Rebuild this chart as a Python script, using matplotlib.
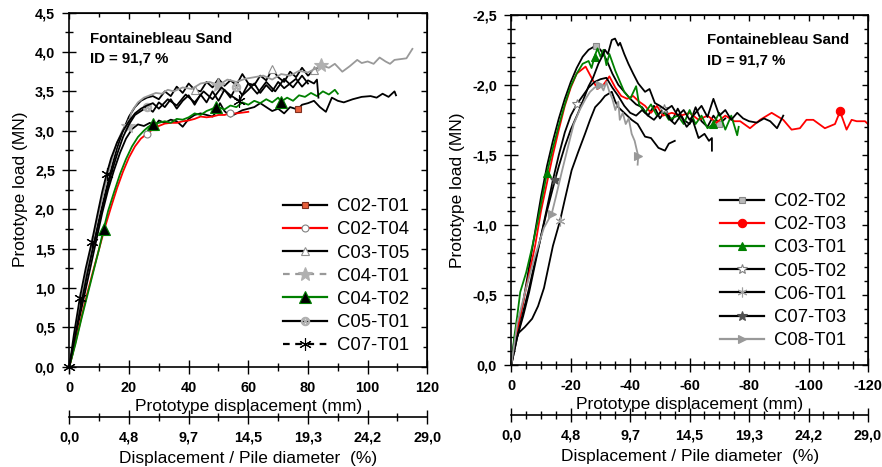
import matplotlib
matplotlib.use("Agg")
import matplotlib.pyplot as plt
from matplotlib.lines import Line2D
from matplotlib.ticker import MultipleLocator, FuncFormatter, FixedLocator

plt.rcParams['font.family'] = ['Liberation Sans', 'DejaVu Sans']

# ---------------- LEFT PANEL DATA (compression) ----------------
c02t01_x = [0, 1, 3, 5, 7, 9, 11, 13, 15, 17, 19, 21, 23, 25, 27, 28.5, 30, 32, 34, 36, 38, 40, 42, 44, 46, 48, 49.5, 50.5,
            52, 54, 56, 58, 60, 62, 64, 66, 68, 70, 72, 74, 76.5, 78, 80, 82, 84, 86, 88, 90, 92, 95, 98, 101, 103, 105,
            107, 109, 109.5]
c02t01_y = [0, 0.15, 0.55, 0.9, 1.25, 1.6, 1.95, 2.25, 2.5, 2.72, 2.9, 3.02, 3.08, 3.06, 3.1, 3.05, 3.13, 3.1, 3.14, 3.12,
            3.05, 3.15, 3.2, 3.22, 3.2, 3.18, 3.25, 3.35, 3.25, 3.18, 3.22, 3.26, 3.28, 3.3, 3.35, 3.3, 3.25, 3.28, 3.22,
            3.3, 3.27, 3.33, 3.35, 3.38, 3.3, 3.24, 3.42, 3.38, 3.36, 3.4, 3.43, 3.44, 3.42, 3.47, 3.43, 3.5, 3.45]
c02t04_x = [0, 2, 4, 6, 8, 10, 12, 14, 16, 18, 20, 22, 24, 26, 28, 30, 32, 34, 36, 38, 40, 42, 44, 46, 48, 50, 52, 54,
            56, 58, 60]
c02t04_y = [0, 0.3, 0.62, 0.93, 1.22, 1.5, 1.78, 2.03, 2.27, 2.48, 2.66, 2.8, 2.9, 2.96, 3.02, 3.06, 3.09, 3.1, 3.1,
            3.12, 3.13, 3.15, 3.18, 3.17, 3.18, 3.2, 3.2, 3.22, 3.22, 3.23, 3.24]
c03t05_x = [0, 2, 4, 6, 8, 10, 12, 14, 16, 18, 20, 22, 24, 26, 28, 30, 32, 34, 36, 38, 40, 42, 44, 46, 48, 50, 52, 54,
            56, 58, 60, 62, 64, 66, 68, 70, 72, 74, 76, 78, 80, 82, 84]
c03t05_y = [0, 0.4, 0.82, 1.2, 1.55, 1.88, 2.2, 2.5, 2.78, 3.0, 3.18, 3.3, 3.38, 3.42, 3.44,
            3.4, 3.5, 3.44, 3.56, 3.48, 3.6, 3.52, 3.5, 3.62, 3.55, 3.66, 3.57, 3.64, 3.58, 3.72, 3.6, 3.58, 3.7, 3.64,
            3.78, 3.68, 3.62, 3.75, 3.68, 3.8, 3.7, 3.77, 3.82]
c04t01_x = [0, 2, 4, 6, 8, 10, 12, 14, 16, 18, 19.5, 21, 23, 25, 27, 29, 31, 33, 35, 38, 41, 44, 47, 50, 53, 56, 59,
            62, 65, 68, 71, 74, 77, 80, 82, 84.5, 87, 89, 91.5, 94, 96.5, 98, 100, 102, 104, 106, 107.5, 109, 111, 113,
            115]
c04t01_y = [0, 0.42, 0.85, 1.25, 1.62, 1.98, 2.3, 2.6, 2.85, 3.02, 3.06, 3.25, 3.36, 3.42, 3.45, 3.48, 3.47, 3.52, 3.5,
            3.55, 3.53, 3.6, 3.62, 3.58, 3.65, 3.62, 3.66, 3.68, 3.7, 3.65, 3.72, 3.7, 3.76, 3.74, 3.78, 3.83, 3.8, 3.85,
            3.75, 3.82, 3.9, 3.86, 3.88, 3.85, 3.93, 3.88, 3.85, 3.9, 3.91, 3.92, 4.04]
c04t02_x = [0, 2, 4, 6, 8, 10, 11.5, 13, 15, 17, 19, 21, 23, 25, 26.5, 28, 30, 32, 34, 36, 38, 40, 42, 44, 46, 48, 49,
            50, 52, 54, 56, 58, 60, 62, 64, 66, 68, 70, 71, 73, 75, 77, 79, 81, 83, 85, 87, 89, 90]
c04t02_y = [0, 0.28, 0.6, 0.9, 1.2, 1.5, 1.75, 1.98, 2.22, 2.45, 2.64, 2.8, 2.92, 3.0, 3.05, 3.08, 3.1, 3.12, 3.1, 3.15,
            3.14, 3.17, 3.22, 3.2, 3.25, 3.28, 3.3, 3.3, 3.27, 3.32, 3.3, 3.36, 3.33, 3.38, 3.35, 3.4, 3.36, 3.42, 3.37,
            3.42, 3.38, 3.45, 3.43, 3.48, 3.44, 3.5, 3.46, 3.52, 3.47]
c05t01_x = [0, 2, 4, 6, 8, 10, 12, 14, 16, 18, 20, 22, 24, 26, 28, 30, 32, 34, 36, 38, 40, 42, 44, 46, 48, 50, 52, 54,
            56, 58, 60, 62, 64, 66, 68, 70, 72, 74, 76, 78, 80, 82, 83, 83.5]
c05t01_y = [0, 0.4, 0.8, 1.18, 1.52, 1.85, 2.15, 2.45, 2.7, 2.92, 3.08, 3.2, 3.25, 3.3,
            3.24, 3.36, 3.3, 3.4, 3.28, 3.38, 3.45, 3.33, 3.46, 3.36, 3.5, 3.38, 3.52, 3.42, 3.56, 3.45, 3.52, 3.6, 3.48,
            3.58, 3.5, 3.62, 3.54, 3.6, 3.66, 3.56, 3.64, 3.6, 3.65, 3.42]
c07t01_x = [0, 1.5, 3.5, 5.5, 7.5, 9.5, 11, 12.5, 14, 16, 18, 20, 22, 24, 26, 28, 30, 33, 36, 39, 42, 45, 48, 51, 54,
            57, 60, 63, 66, 69, 72, 75, 78, 80]
c07t01_y = [0, 0.4, 0.87, 1.25, 1.58, 1.95, 2.22, 2.45, 2.65, 2.85, 3.0, 3.12, 3.22, 3.28, 3.32,
            3.35, 3.28, 3.4, 3.32, 3.46, 3.36, 3.5, 3.4, 3.55, 3.45, 3.38, 3.6, 3.47, 3.62, 3.5, 3.66, 3.55, 3.7, 3.6]

# ---------------- RIGHT PANEL DATA (tension) ----------------
c02t02_x = [0, -1, -2.5, -4, -6, -8, -10, -12, -14, -16, -18, -20, -22, -24, -26, -28.5, -30, -32, -34, -36, -38, -40,
            -42, -44, -46, -48, -50, -52, -54, -56, -58, -60, -62, -64, -66, -68, -70, -72]
c02t02_y = [0, -0.18, -0.3, -0.45, -0.7, -0.95, -1.2, -1.42, -1.6, -1.76, -1.9, -2.02, -2.12, -2.2, -2.25, -2.28, -2.25,
            -2.18, -2.08, -2.0, -1.95, -1.9, -1.86, -1.84, -1.78, -1.85, -1.76, -1.82, -1.74, -1.83, -1.75, -1.72, -1.84,
            -1.74, -1.7, -1.78, -1.72, -1.76]
c02t03_x = [0, -2, -4, -6, -8, -10, -12, -14, -16, -18, -20, -22, -25, -27, -29, -31, -33, -35, -37, -39, -41, -43, -45,
            -47, -49, -51, -54, -57, -60, -63, -66, -69, -72, -75, -77, -80.3, -83.7, -87.6, -91.5, -94.3, -97.1, -99.3,
            -101.6, -105.5, -108.9, -110.6, -112.8, -114.5, -116.2, -119, -120]
c02t03_y = [0, -0.25, -0.45, -0.65, -0.85, -1.1, -1.3, -1.5, -1.68, -1.85, -1.98, -2.08, -2.13, -2.05, -1.97, -2.0,
            -2.06, -1.98, -1.92, -1.9, -1.92, -1.88, -1.85, -1.8, -1.85, -1.78, -1.8, -1.78, -1.8, -1.75, -1.78, -1.73,
            -1.78, -1.74, -1.74, -1.69, -1.75, -1.8, -1.75, -1.68, -1.69, -1.75, -1.75, -1.69, -1.72, -1.81, -1.68,
            -1.75, -1.74, -1.74, -1.72]
c03t01_x = [0, -1, -2, -3, -5, -7, -9, -12, -14, -16, -18, -20, -22, -24, -26, -27, -28, -29, -30, -31, -32, -33, -35,
            -37, -38, -40, -42, -43, -45, -47, -49, -51, -53, -56, -58, -60, -62, -64, -66, -68, -70, -72, -74, -76,
            -76.5]
c03t01_y = [0, -0.2, -0.35, -0.52, -0.66, -0.84, -1.04, -1.37, -1.55, -1.71, -1.86, -1.99, -2.08, -2.15, -2.17, -2.12,
            -2.2, -2.26, -2.2, -2.25, -2.14, -2.22, -2.1, -2.0, -1.95, -1.9, -1.99, -1.86, -1.8, -1.86, -1.78, -1.82,
            -1.75, -1.78, -1.72, -1.82, -1.72, -1.78, -1.69, -1.72, -1.8, -1.68, -1.78, -1.64, -1.7]
c05t02_x = [0, -2, -4, -6, -8, -10, -12, -14, -16, -18, -20, -22, -24, -26, -28, -30, -32, -34, -36, -38, -40, -42, -44,
            -46, -48, -50, -51.5, -53, -55, -57, -59, -61, -63, -65, -66.5, -67.5, -67.5]
c05t02_y = [0, -0.2, -0.35, -0.52, -0.72, -0.92, -1.12, -1.32, -1.5, -1.66, -1.78, -1.86, -1.92, -1.98, -2.02, -2.04,
            -2.05, -1.98, -1.92, -1.85, -1.8, -1.78, -1.82, -1.78, -1.75, -1.8, -1.83, -1.76, -1.72, -1.78, -1.7, -1.75,
            -1.62, -1.65, -1.6, -1.62, -1.53]
c06t01_x = [0, -1, -2.5, -4.5, -7, -9, -11, -12.5, -14, -16.4, -18, -20.3, -22.5, -24.8, -26.5, -28.2, -30, -31.5,
            -33.8, -35, -36, -38, -40.5, -42.5, -45, -47, -49.5, -51.7, -53, -55]
c06t01_y = [0, -0.15, -0.23, -0.27, -0.33, -0.42, -0.55, -0.7, -0.85, -1.03, -1.18, -1.39, -1.52, -1.65, -1.75, -1.84,
            -1.88, -1.92, -1.95, -1.88, -1.84, -1.8, -1.75, -1.72, -1.63, -1.62, -1.55, -1.53, -1.58, -1.6]
c07t03_x = [0, -2, -4, -6, -8, -10, -12, -14.7, -16, -18, -20, -22.5, -24, -26, -27.5, -29.3, -30.5, -31.5, -32.5,
            -33.8, -34.9, -36, -36.6, -38, -39.4, -41, -42.7, -45, -46.5, -48.3, -50, -52, -54, -56, -58, -60, -62, -64,
            -66, -68, -70, -72, -74, -76, -78, -80, -82.6, -85, -87.1, -89.4, -91.5]
c07t03_y = [0, -0.2, -0.38, -0.55, -0.74, -0.92, -1.1, -1.32, -1.42, -1.56, -1.68, -1.8, -1.88, -1.99, -2.05, -2.15,
            -2.2, -2.25, -2.22, -2.32, -2.33, -2.28, -2.3, -2.22, -2.15, -2.08, -2.01, -1.95, -1.97, -1.87, -1.85, -1.82,
            -1.85, -1.78, -1.82, -1.75, -1.8, -1.85, -1.77, -1.9, -1.78, -1.82, -1.75, -1.8, -1.76, -1.74, -1.73, -1.76,
            -1.74, -1.69, -1.78]
c08t01_x = [0, -2, -5, -8, -11, -13.6, -15, -17, -19, -21, -23, -25, -26.5, -28, -30, -31, -32, -33, -34, -35, -36,
            -36.5, -37.5, -38.5, -39.5, -40.5, -41.5, -42.7, -42.5]
c08t01_y = [0, -0.3, -0.55, -0.78, -0.98, -1.08, -1.2, -1.38, -1.55, -1.72, -1.82, -1.9, -1.95, -1.98, -2.0, -1.96,
            -2.02, -1.95, -1.9, -1.82, -1.88, -1.75, -1.8, -1.72, -1.76, -1.65, -1.6, -1.49, -1.43]

left_labels = ['C02-T01', 'C02-T04', 'C03-T05', 'C04-T01', 'C04-T02', 'C05-T01', 'C07-T01']
right_labels = ['C02-T02', 'C02-T03', 'C03-T01', 'C05-T02', 'C06-T01', 'C07-T03', 'C08-T01']
x_ticks_mm = [0, 20, 40, 60, 80, 100, 120]
ratio_labels = ['0,0', '4,8', '9,7', '14,5', '19,3', '24,2', '29,0']
annot = 'Fontainebleau Sand\nID = 91,7 %'

GREEN = '#008000'
GREY = '#999999'

# styles: (x, y, line colour, marker, marker face, marker edge, marker size, markevery, legend linestyle)
left_series = [
    (c02t01_x, c02t01_y, 'black', 's', '#e8603c', '#803020', 4.5, [15, 40], '-'),
    (c02t04_x, c02t04_y, 'red', 'o', 'white', '#808080', 5, [13, 27], '-'),
    (c03t05_x, c03t05_y, 'black', '^', 'white', '#909090', 5.5, [21, 34, 41], '-'),
    (c04t01_x, c04t01_y, GREY, '*', '#b0b0b0', '#b0b0b0', 10, [10, 23, 35], (0, (3, 2.5))),
    (c04t02_x, c04t02_y, GREEN, '^', 'black', GREEN, 9, [6, 15, 26, 38], '-'),
    (c05t01_x, c05t01_y, 'black', r'$\otimes$', '#b0b0b0', '#b0b0b0', 6, [13, 28], '-'),
    (c07t01_x, c07t01_y, 'black', (6, 2, 0), 'black', 'black', 9, [0, 2, 4, 7, 25], (0, (3, 2.5))),
]
right_series = [
    (c02t02_x, c02t02_y, 'black', 's', '#b8b8b8', '#888888', 5, [15, 36], '-'),
    (c02t03_x, c02t03_y, 'red', 'o', 'red', 'red', 6, [45], '-'),
    (c03t01_x, c03t01_y, GREEN, '^', GREEN, GREEN, 6, [7, 16, 39], '-'),
    (c05t02_x, c05t02_y, 'black', '*', 'white', '#808080', 7, [11, 26], '-'),
    (c06t01_x, c06t01_y, 'black', (6, 2, 0), '#a0a0a0', '#a0a0a0', 7, [9], '-'),
    (c07t03_x, c07t03_y, 'black', '*', '#505050', '#505050', 7, [7], '-'),
    (c08t01_x, c08t01_y, GREY, '>', GREY, GREY, 6, [5, 14, 27], '-'),
]

TICK_SIZE = 10.4

fig = plt.figure(figsize=(8.82, 4.67), dpi=100)
axL = fig.add_axes([0.0786, 0.2148, 0.4059, 0.758])
axR = fig.add_axes([0.5797, 0.2184, 0.4044, 0.750])

comma = FuncFormatter(lambda v, p: ('%.1f' % v).replace('.', ','))


def style_axes(ax, xlim, ylim, xminor, yminor, ymaj, sec_loc, sec_minor, sec_ticks):
    ax.set_xlim(*xlim)
    ax.set_ylim(*ylim)
    ax.xaxis.set_major_locator(FixedLocator(sec_ticks))
    ax.xaxis.set_minor_locator(MultipleLocator(xminor))
    ax.yaxis.set_major_locator(MultipleLocator(ymaj))
    ax.yaxis.set_minor_locator(MultipleLocator(yminor))
    ax.yaxis.set_major_formatter(comma)
    ax.xaxis.set_major_formatter(FuncFormatter(lambda v, p: '%d' % round(v)))
    ax.tick_params(which='major', direction='inout', length=9.5, width=1, top=False, right=False,
                   labelsize=TICK_SIZE, pad=5.2)
    ax.tick_params(which='minor', direction='inout', length=6, width=1, top=False, right=False)
    ax.tick_params(axis='y', which='major', pad=5.5)
    for lab in ax.get_xticklabels() + ax.get_yticklabels():
        lab.set_fontweight('bold')
    for sp in ax.spines.values():
        sp.set_linewidth(1.2)
    ax.set_xlabel('Prototype displacement (mm)', fontsize=12.5, labelpad=3.2)
    ax.set_ylabel('Prototype load (MN)', fontsize=12.5, labelpad=5)

    # inward ticks on top and right edges
    top = ax.secondary_xaxis('top')
    top.xaxis.set_major_locator(FixedLocator(sec_ticks))
    top.xaxis.set_minor_locator(MultipleLocator(xminor))
    top.tick_params(which='major', direction='in', length=4, width=1, labeltop=False)
    top.tick_params(which='minor', direction='in', length=3, width=1)
    rgt = ax.secondary_yaxis('right')
    rgt.yaxis.set_major_locator(MultipleLocator(ymaj))
    rgt.yaxis.set_minor_locator(MultipleLocator(yminor))
    rgt.tick_params(which='major', direction='in', length=4, width=1, labelright=False)
    rgt.tick_params(which='minor', direction='in', length=3, width=1)

    sec = ax.secondary_xaxis(sec_loc)
    sec.set_xticks(sec_ticks)
    sec.set_xticklabels(ratio_labels)
    sec.xaxis.set_minor_locator(MultipleLocator(sec_minor))
    sec.tick_params(which='major', direction='inout', length=9.5, width=1, labelsize=TICK_SIZE, pad=5.2)
    sec.tick_params(which='minor', direction='inout', length=6, width=1)
    for lab in sec.get_xticklabels():
        lab.set_fontweight('bold')
    for sp in sec.spines.values():
        sp.set_linewidth(1.2)
    sec.set_xlabel('Displacement / Pile diameter  (%)', fontsize=12.5, labelpad=4.5)


def draw(ax, series, labels):
    handles = []
    for (x, y, lc, mk, mf, me, ms, mev, lls), lab in zip(series, labels):
        ax.plot(x, y, color=lc, lw=1.3, marker=mk, markerfacecolor=mf, markeredgecolor=me,
                markersize=ms, markevery=mev, markeredgewidth=0.8, clip_on=False)
        handles.append(Line2D([], [], color=lc, lw=1.6, ls=lls, marker=mk, markerfacecolor=mf,
                              markeredgecolor=me, markersize=ms, markeredgewidth=0.8))
    return handles


hL = draw(axL, left_series, left_labels)
hR = draw(axR, right_series, right_labels)

style_axes(axL, (0, 120), (0, 4.5), 10, 0.25, 0.5, -0.141, 10, x_ticks_mm)
style_axes(axR, (0, -120), (0, -2.5), 5, 0.1, 0.5, -0.143, 5, [-v for v in x_ticks_mm])

axL.text(0.058, 0.898, annot, transform=axL.transAxes, fontsize=10.8, fontweight='bold',
         va='center', ha='left', linespacing=1.55)
axR.text(0.548, 0.899, annot, transform=axR.transAxes, fontsize=10.8, fontweight='bold',
         va='center', ha='left', linespacing=1.55)

for ax, h, lab, anchor in [(axL, hL, left_labels, (0.597, 0.476)), (axR, hR, right_labels, (0.585, 0.491))]:
    ax.legend(h, lab, loc='upper left', bbox_to_anchor=anchor, frameon=False, fontsize=13.3,
              handlelength=2.4, handletextpad=0.5, labelspacing=0.335, borderpad=0, borderaxespad=0)

fig.savefig('out.png', dpi=100)
